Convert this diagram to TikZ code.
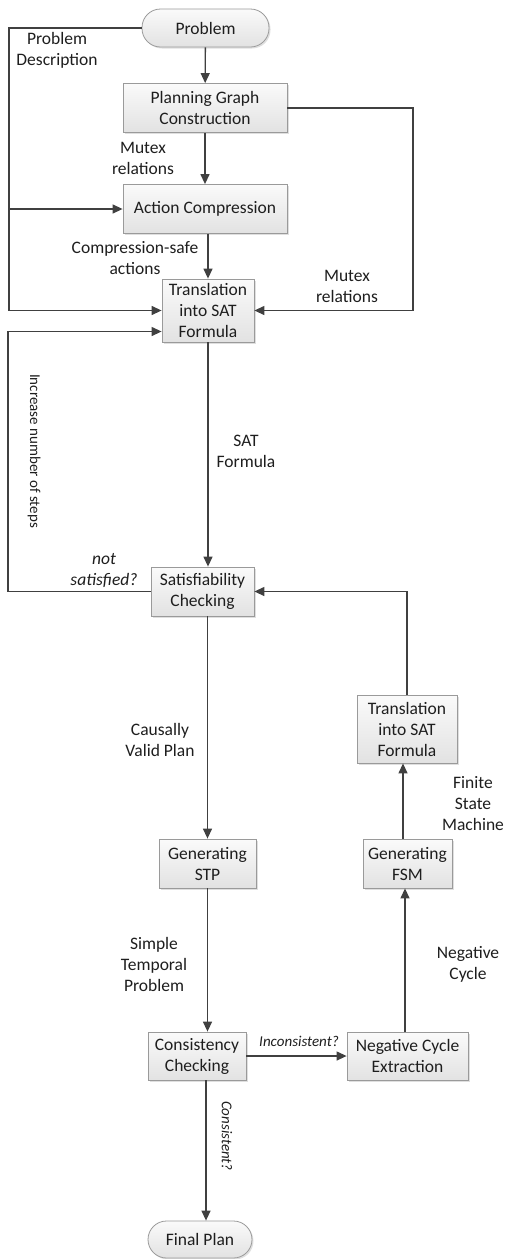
\documentclass[tikz,border=0pt]{standalone}
\usepackage{fontspec}
\setmainfont{Carlito}
\usetikzlibrary{arrows.meta,shadows,calc}
\definecolor{linec}{HTML}{404040}
\definecolor{boxb}{HTML}{9A9A9A}
\definecolor{boxtop}{HTML}{FAFAFA}
\definecolor{boxbot}{HTML}{E2E2E2}
\definecolor{txt}{HTML}{1E1E1E}
\tikzset{
  procbox/.style={draw=boxb, line width=0.8pt, top color=boxtop, bottom color=boxbot,
    align=center, inner sep=0pt, text=txt, font=\fontsize{17.5}{21}\selectfont,
    drop shadow={opacity=0.25, shadow xshift=1.5pt, shadow yshift=-1.5pt}},
  termbox/.style={procbox, rounded corners=18.5pt},
  lbl/.style={align=center, text=txt, font=\fontsize{17.5}{21}\selectfont, inner sep=0pt},
  ilbl/.style={align=center, text=txt, font=\fontsize{15}{18}\selectfont\itshape, inner sep=0pt},
  arr/.style={draw=linec, line width=1.3pt, -{Triangle[length=10pt,width=9pt]}},
  ln/.style={draw=linec, line width=1.3pt},
}
\begin{document}
\begin{tikzpicture}[x=1pt,y=-1pt]
\useasboundingbox (0,0) rectangle (507,1259);
% nodes
\node[termbox, minimum width=127pt, minimum height=38pt] (prob) at (205.5,28) {Problem};
\node[procbox, minimum width=164pt, minimum height=49pt] (pgc) at (205,108) {Planning Graph\\Construction};
\node[procbox, minimum width=164pt, minimum height=49pt] (ac) at (205,209) {Action Compression};
\node[procbox, minimum width=92pt, minimum height=63pt] (tsat) at (208,310.5) {Translation\\into SAT\\Formula};
\node[procbox, minimum width=103pt, minimum height=49pt] (sat) at (202.5,591.5) {Satisfiability\\Checking};
\node[procbox, minimum width=97pt, minimum height=49pt] (stp) at (207.5,863.5) {Generating\\STP};
\node[procbox, minimum width=100pt, minimum height=68pt] (tsat2) at (407,729) {Translation\\into SAT\\Formula};
\node[procbox, minimum width=89pt, minimum height=49pt] (fsm) at (407.5,863.5) {Generating\\FSM};
\node[procbox, minimum width=98pt, minimum height=48pt] (cons) at (197,1056) {Consistency\\Checking};
\node[procbox, minimum width=121pt, minimum height=48pt] (neg) at (407.5,1056) {Negative Cycle\\Extraction};
\node[termbox, minimum width=104pt, minimum height=37pt] (final) at (200,1239.5) {Final Plan};
% coordinates
\coordinate (pl) at (9,28);
\coordinate (br) at (9,209);
\coordinate (mr) at (413,108);
\coordinate (ll) at (8,591.5);
% connectors
\draw[arr] (prob) -- (pgc);
\draw[arr] (pgc) -- (ac);
\draw[arr] (tsat.north |- ac.south) -- (tsat.north);
\draw[arr] (prob.west) -- (pl) |- (tsat.west);
\draw[arr] (br) -- (ac.west);
\draw[arr] (pgc.east) -- (mr) |- (tsat.east);
\draw[arr] (sat.west) -- (ll) |- ([yshift=-21pt]tsat.west);
\draw[arr] (tsat.south) -- (tsat.south |- sat.north);
\draw[arr] (stp.north |- sat.south) -- (stp.north);
\draw[arr] (stp.south) -- (stp.south |- cons.north);
\draw[arr] (cons.east) -- (neg.west);
\draw[arr] ([xshift=-2.5pt]neg.north) -- ([xshift=-2.5pt]neg.north |- fsm.south);
\draw[arr] ([xshift=-4.5pt]fsm.north) -- ([xshift=-4.5pt]fsm.north |- tsat2.south);
\draw[arr] (tsat2.north) |- (sat.east);
\draw[arr] ([xshift=9pt]cons.south) -- ([xshift=9pt]cons.south |- final.north);
% labels
\node[lbl] (l1) at (57,50.5) {Problem\\Description};
\node[lbl] (l2) at (143,158.5) {Mutex\\relations};
\node[lbl] (l3) at (135,258.5) {Compression-safe\\actions};
\node[lbl] (l4) at (347,286) {Mutex\\relations};
\node[lbl] (l5) at (246,451) {SAT\\Formula};
\node[lbl, font=\fontsize{15}{18}\selectfont, rotate=-90] (l6) at (34,451) {Increase number of steps};
\node[ilbl, font=\fontsize{17.5}{21}\selectfont\itshape] (l7) at (104,570) {not\\satisfied?};
\node[lbl] (l8) at (160,740) {Causally\\Valid Plan};
\node[lbl] (l9) at (473,804) {Finite\\State\\Machine};
\node[lbl] (l10) at (154,964) {Simple\\Temporal\\Problem};
\node[lbl] (l11) at (468,964) {Negative\\Cycle};
\node[ilbl] (l12) at (299,1041) {Inconsistent?};
\node[ilbl, rotate=-90] (l13) at (227,1136) {Consistent?};
\end{tikzpicture}
\end{document}
